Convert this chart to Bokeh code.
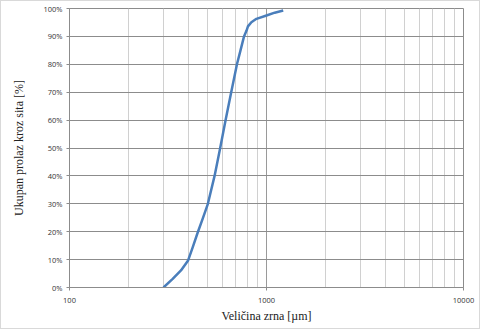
from bokeh.plotting import figure
from bokeh.models import Range1d, FixedTicker, Grid, LogAxis, LinearAxis, LogScale
from bokeh.embed import file_html
from bokeh.resources import INLINE

# Data (grain size in µm, cumulative passing in %)
grain_size = [300, 334, 368, 400, 422, 448, 475, 504, 545, 582, 620, 662, 708, 738, 769, 792, 805, 838, 889, 1000, 1101, 1216]
passing = [0, 3.1, 6.1, 9.7, 14.4, 19.8, 24.8, 30, 40, 50, 60, 70, 80, 85, 90, 92.1, 93.6, 95.1, 96.3, 97.5, 98.5, 99.3]

y_ticks = [0, 10, 20, 30, 40, 50, 60, 70, 80, 90, 100]
y_labels = {t: f"{t}%" for t in y_ticks}
x_major = [100, 1000, 10000]
x_labels = {100: "100", 1000: "1000", 10000: "10000"}
x_minor = [200, 300, 400, 500, 600, 700, 800, 900, 2000, 3000, 4000, 5000, 6000, 7000, 8000, 9000]

x_title = "Veličina zrna [µm]"
y_title = "Ukupan prolaz kroz sita [%]"

p = figure(width=480, height=329, x_axis_type=None, y_axis_type=None,
           x_range=Range1d(100, 10000), y_range=Range1d(0, 100),
           output_backend="svg", toolbar_location=None,
           min_border_left=68, min_border_right=18, min_border_top=7, min_border_bottom=43)
p.x_scale = LogScale()

p.outline_line_color = "#8c8c8c"
p.outline_line_width = 1
p.background_fill_color = "white"
p.border_fill_color = "white"

xaxis = LogAxis(ticker=FixedTicker(ticks=x_major), axis_label=x_title,
                major_label_overrides=x_labels)
yaxis = LinearAxis(ticker=FixedTicker(ticks=y_ticks), axis_label=y_title,
                   major_label_overrides=y_labels)
p.add_layout(xaxis, "below")
p.add_layout(yaxis, "left")

for ax in (xaxis, yaxis):
    ax.axis_line_color = "#8c8c8c"
    ax.major_tick_line_color = "#8c8c8c"
    ax.major_tick_in = 0
    ax.major_tick_out = 3
    ax.minor_tick_line_color = None
    ax.major_label_text_font = "Open Sans"
    ax.major_label_text_font_size = "7.5px"
    ax.major_label_text_color = "#333333"
    ax.axis_label_text_font = "Liberation Serif"
    ax.axis_label_text_font_size = "12px"
    ax.axis_label_text_font_style = "normal"
    ax.axis_label_text_color = "#222222"

xaxis.major_label_standoff = 7
xaxis.axis_label_standoff = 3
yaxis.major_label_standoff = 4
yaxis.axis_label_standoff = 14

# grids
p.add_layout(Grid(dimension=0, ticker=FixedTicker(ticks=x_minor),
                  grid_line_color="#d0d0d0", grid_line_width=1))
p.add_layout(Grid(dimension=0, ticker=FixedTicker(ticks=x_major),
                  grid_line_color="#9a9a9a", grid_line_width=1))
p.add_layout(Grid(dimension=1, ticker=FixedTicker(ticks=y_ticks),
                  grid_line_color="#8c8c8c", grid_line_width=1))

p.line(grain_size, passing, line_color="#4a7ebb", line_width=2.5, line_join="round")

p.styles = {"border": "1px solid #d9d9d9", "box-sizing": "border-box"}

open("out.html", "w").write(file_html(p, INLINE))
